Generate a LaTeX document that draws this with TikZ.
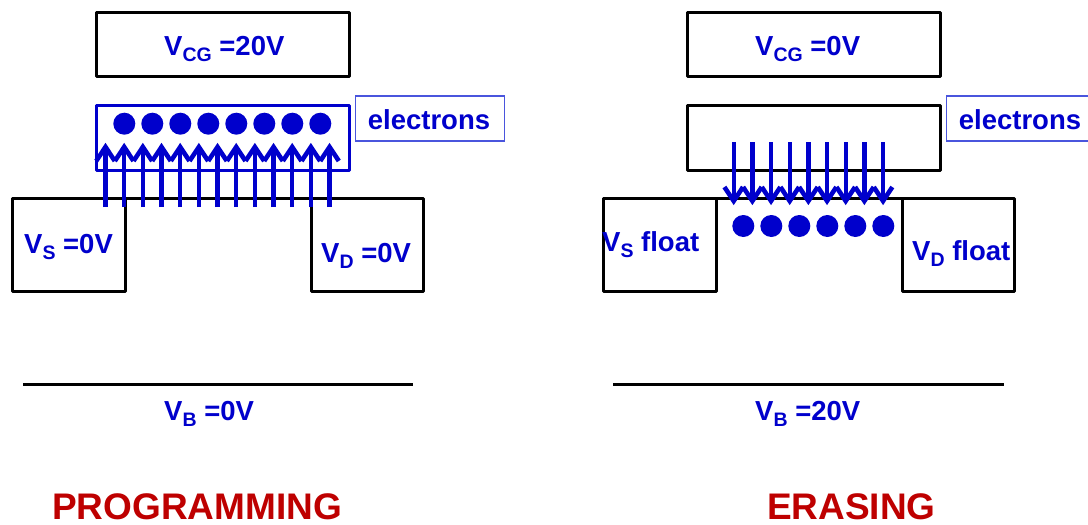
\documentclass[tikz,border=0pt]{standalone}
\usepackage{fontspec}
\setmainfont{Liberation Sans}
\definecolor{fblue}{HTML}{0000CC}
\definecolor{fred}{HTML}{BE0000}
\definecolor{lblue}{HTML}{4A55DD}
\newcommand{\vlab}[2]{V\raisebox{-6pt}{\fontsize{19.5}{20}\selectfont #1}#2}
\tikzset{
  x=1pt,y=-1pt,
  gatebox/.style={draw=black,line width=3pt,rectangle,inner sep=0pt,outer sep=0pt,line join=round,minimum width=#1},
  gatebox/.default=253pt,
  lab/.style={text=fblue,font=\fontsize{27.5}{28}\selectfont\bfseries,anchor=base west,inner sep=0pt},
  title/.style={text=fred,font=\fontsize{37}{38}\selectfont\bfseries,anchor=base west,inner sep=0pt},
  elecbox/.style={draw=lblue,line width=1.4pt,rectangle,inner sep=0pt,outer sep=0pt,minimum width=149pt,minimum height=45pt,anchor=north west},
  dot/.style={circle,fill=fblue,draw=none,minimum size=22pt,inner sep=0pt},
  flow/.style={draw=fblue,line width=4.4pt},
  barb/.style={draw=fblue,line width=4.6pt,line join=miter,miter limit=10},
}
\begin{document}
\begin{tikzpicture}
\clip (0,0) rectangle (1088,525);
\fill[white] (0,0) rectangle (1088,525);
% --- programming ---
\node[gatebox,minimum height=64pt,anchor=north west] (cgL) at (96,12) {};
\node[lab] (cgLt) at (164,55) {\vlab{CG}{ =20V}};
\node[gatebox,draw=fblue,minimum height=65pt,anchor=north west] (fgL) at (96,105) {};
\node[elecbox] (elL) at (355.5,96) {};
\node[lab,anchor=base] (elLt) at (429,129) {electrons};
\node[gatebox=113pt,minimum height=93pt,anchor=north west] (sL) at (12,198) {};
\node[gatebox=112pt,minimum height=93pt,anchor=north west] (dL) at (311,198) {};
\draw[line width=3pt] (sL.north east) -- (dL.north west);
\node[lab] (sLt) at (24,253) {\vlab{S}{ =0V}};
\node[lab] (dLt) at (321,262) {\vlab{D}{ =0V}};
\coordinate (bLa) at (23,384);
\coordinate (bLb) at (413,384);
\draw[line width=3pt] (bLa) -- (bLb);
\node[lab] (bLt) at (164,420) {\vlab{B}{ =0V}};
\node[title] (tL) at (52,519) {PROGRAMMING};
\foreach \i in {0,...,7}
  \node[dot] (dotL\i) at ({124.3+28*\i},123.7) {};
\foreach \i in {0,...,12}{
  \coordinate (aLb\i) at ({105.5+18.67*\i},207);
  \coordinate (aLt\i) at ({105.5+18.67*\i},147);
  \draw[flow] (aLb\i) -- (aLt\i);
  \draw[barb] (aLt\i) ++(-9.3,14) -- (aLt\i) -- ++(9.3,14);
}
% --- erasing ---
\node[gatebox,minimum height=64pt,anchor=north west] (cgR) at (687,12) {};
\node[lab] (cgRt) at (755,55) {\vlab{CG}{ =0V}};
\node[gatebox,minimum height=65pt,anchor=north west] (fgR) at (687,105) {};
\node[elecbox] (elR) at (946.5,96) {};
\node[lab,anchor=base] (elRt) at (1020,129) {electrons};
\node[gatebox=113pt,minimum height=93pt,anchor=north west] (sR) at (603,198) {};
\node[gatebox=112pt,minimum height=93pt,anchor=north west] (dR) at (902,198) {};
\draw[line width=3pt] (sR.north east) -- (dR.north west);
\node[lab] (sRt) at (602,251) {\vlab{S}{ float}};
\node[lab] (dRt) at (912,260) {\vlab{D}{ float}};
\coordinate (bRa) at (613,384);
\coordinate (bRb) at (1004,384);
\draw[line width=3pt] (bRa) -- (bRb);
\node[lab] (bRt) at (755,420) {\vlab{B}{ =20V}};
\node[title] (tR) at (767,519) {ERASING};
\foreach \i in {0,...,5}
  \node[dot] (dotR\i) at ({743.3+28*\i},226) {};
\foreach \i in {0,...,8}{
  \coordinate (aRb\i) at ({733.7+18.67*\i},142);
  \coordinate (aRt\i) at ({733.7+18.67*\i},201);
  \draw[flow] (aRb\i) -- (aRt\i);
  \draw[barb] (aRt\i) ++(-9.3,-14) -- (aRt\i) -- ++(9.3,-14);
}
\end{tikzpicture}
\end{document}
